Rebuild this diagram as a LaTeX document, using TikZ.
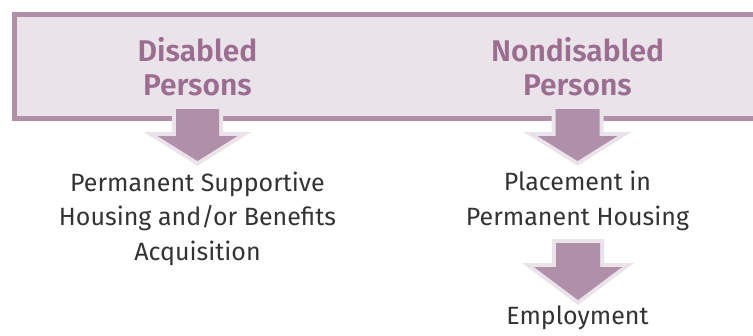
\documentclass[tikz,border=0pt]{standalone}
\usepackage{fontspec}
\setmainfont{Fira Sans}
\newfontfamily\headfont{Fira Sans}[UprightFont=* SemiBold]
\definecolor{boxfill}{HTML}{EAE3E9}
\definecolor{boxline}{HTML}{B08FA8}
\definecolor{headtext}{HTML}{9B6E91}
\definecolor{bodytext}{HTML}{333333}
\tikzset{
  headbox/.style={fill=boxfill, draw=boxline, line width=5pt},
  headlabel/.style={inner sep=0pt, anchor=base, align=center, text=headtext,
    font=\fontsize{30}{34}\selectfont\headfont},
  bodylabel/.style={inner sep=0pt, anchor=base, align=center, text=bodytext,
    font=\fontsize{25}{34.5}\selectfont},
  bigarrow/.style={fill=boxline, preaction={draw=boxfill, line width=8pt}}
}
\begin{document}
\begin{tikzpicture}[x=1pt,y=-1pt]
\useasboundingbox (0,0) rectangle (753,335);
\clip (0,0) rectangle (753,335);
\draw[headbox] (14.5,14) rectangle (770,118);
% arrows
\path[bigarrow] (176,109) -- (219,109) -- (219,136) -- (237.5,136) -- (197.5,161)
  -- (157.5,136) -- (176,136) -- cycle;
\path[bigarrow] (555.5,109) -- (599.5,109) -- (599.5,136) -- (617.5,136) -- (577.5,161)
  -- (537.5,136) -- (555.5,136) -- cycle;
\path[bigarrow] (556,243) -- (600,243) -- (600,267) -- (622,267) -- (578,300)
  -- (534,267) -- (556,267) -- cycle;
% texts
\node[headlabel] (dis) at (197.5,95) {Disabled\\Persons};
\node[headlabel] (nondis) at (577.5,95) {Nondisabled\\Persons};
\node[bodylabel] (psh) at (197.5,260) {Permanent Supportive\\Housing and/or Benefits\\Acquisition};
\node[bodylabel] (pph) at (577.5,225) {Placement in\\Permanent Housing};
\node[bodylabel] (emp) at (577.5,324) {Employment};
\end{tikzpicture}
\end{document}
